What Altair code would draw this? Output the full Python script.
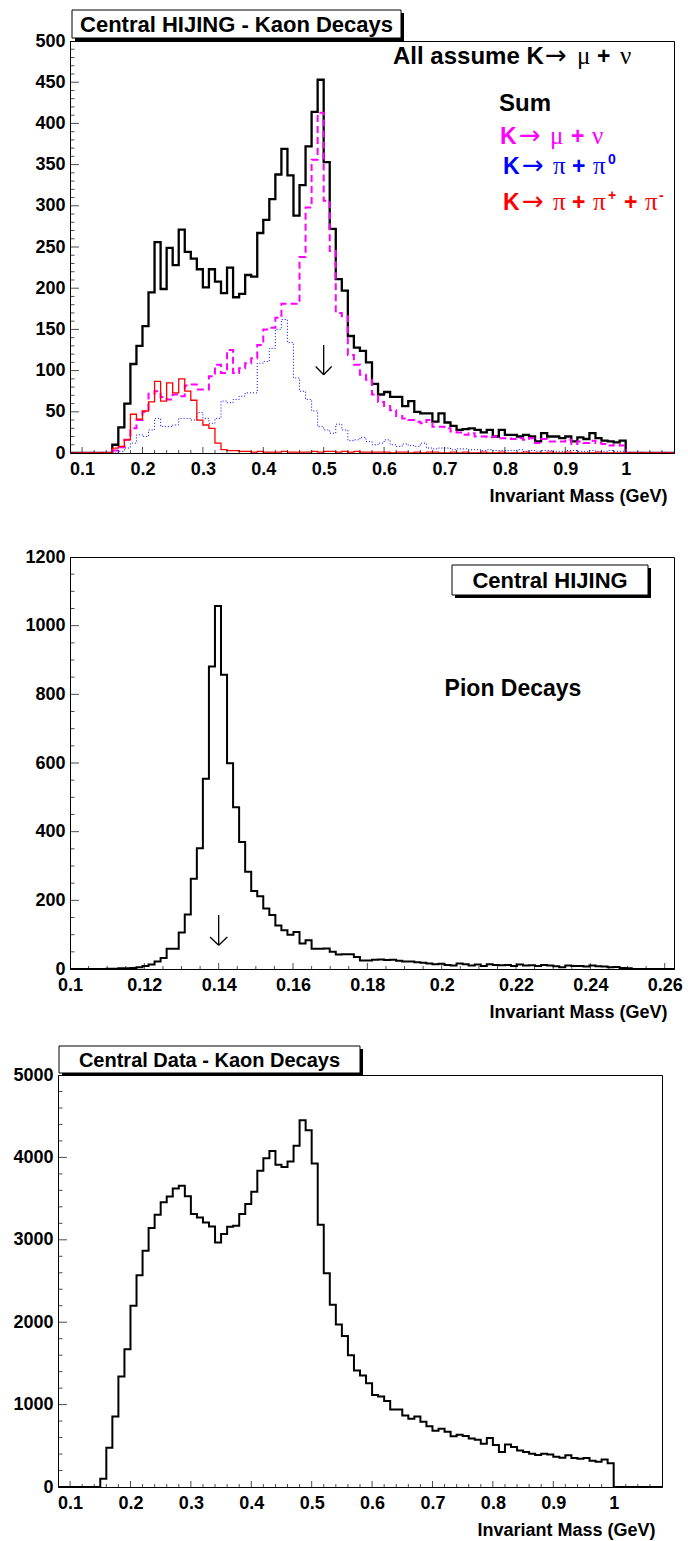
import altair as alt
import pandas as pd

FONT = "Liberation Sans"
SYM = "Liberation Serif"
ARW = "DejaVu Sans"
W, H = 604, 412

# ---------------- Panel 1: Central HIJING - Kaon decays (all assume K -> mu nu)
KAON_EDGE0 = 0.08      # lower edge of histogram range
KAON_BINW = 0.01
KAON_NBINS = 100
KAON_FIRST_BIN = 7     # index of bin 0.15-0.16, first listed value
kaon_sum = [10, 31, 60, 108, 130, 154, 195, 256, 199, 249,
            228, 271, 244, 236, 223, 201, 223, 208, 194, 225,
            189, 193, 216, 214, 267, 283, 308, 338, 369, 337,
            288, 325, 372, 414, 453, 353, 272, 211, 197, 142,
            128, 124, 110, 84,
            71, 74, 68, 68, 57, 63, 50, 48, 48, 38,
            48, 37, 33, 28, 29, 30, 28, 25, 28, 20,
            28, 22, 22, 20, 22, 20, 14, 24, 20, 20,
            18, 20, 14, 19, 17, 24, 18, 15, 14, 13, 15]
kaon_munu = [3, 7, 16, 30, 40, 50, 72, 75, 68, 65,
             71, 69, 82, 83, 77, 77, 93, 107, 97, 125,
             97, 103, 109, 115, 131, 150, 152, 164, 181, 181,
             181, 238, 298, 356, 413, 306, 245, 170, 166, 119,
             107, 95, 89, 71,
             62, 57, 52, 45, 42, 40, 38, 36, 40, 32,
             32, 30, 26, 25, 22, 24, 20, 20, 19, 20,
             18, 18, 17, 18, 16, 18, 12, 17, 14, 14,
             14, 16, 11, 14, 12, 15, 12, 11, 9, 10, 9]
kaon_pipi0 = [0, 2, 6, 12, 22, 20, 28, 42, 32, 32,
              34, 42, 42, 40, 49, 42, 36, 42, 63, 61,
              65, 69, 73, 73, 109, 111, 127, 150, 162, 134,
              91, 75, 65, 51, 32, 28, 24, 35, 28, 15,
              16, 19, 14, 10,
              12, 16, 10, 8, 11, 9, 8, 12, 6, 5,
              6, 6, 4, 5, 5, 4, 4, 3, 4, 3,
              3, 3, 3, 4, 2, 3, 2, 3, 3, 2,
              2, 3, 3, 2, 2, 3, 2, 2, 3, 2, 2]
kaon_3pi = [6, 8, 16, 47, 41, 51, 62, 87, 63, 85,
            73, 90, 75, 64, 40, 34, 30, 12, 4, 3,
            3, 2, 2, 1, 2, 1, 1, 1, 2, 1,
            1, 1, 1, 2, 1, 2, 2, 1, 2, 1,
            2, 1, 1, 1,
            1, 1, 0, 1, 1, 0, 1, 0, 1, 1,
            0, 0, 1, 0, 1, 0, 0, 1, 0, 0,
            1, 0, 0, 0, 1, 0, 0, 0, 1, 0,
            0, 1, 0, 0, 0, 0, 1, 0, 0, 0, 0]

# ---------------- Panel 2: Central HIJING - Pion decays
PION_EDGE0 = 0.1
PION_BINW = 0.001625
PION_NBINS = 100
PION_FIRST_BIN = 0
pion_counts = [0, 0, 0, 0, 0, 0, 1, 1, 2, 2, 3, 5,
               9, 13, 22, 32, 59, 59, 106, 159, 263, 352, 554, 881, 1057, 857,
               599, 471, 370, 283, 227, 212, 176, 157, 127, 113, 100, 108, 74, 84,
               59, 59, 60, 50, 42, 43, 43, 35, 25, 25, 27,
               28, 26, 27, 24, 22, 22, 20, 18, 16, 14,
               15, 12, 10, 16, 14, 10, 13, 9, 14, 12,
               11, 12, 9, 13, 10, 11, 9, 12, 10, 8,
               5, 10, 9, 9, 7, 10, 8, 7, 5, 6, 3, 2]

# ---------------- Panel 3: Central Data - Kaon decays
DATA_EDGE0 = 0.08
DATA_BINW = 0.01
DATA_NBINS = 100
DATA_FIRST_BIN = 7
data_kaon = [101, 477, 856, 1341, 1672, 2201, 2569, 2868, 3142, 3304,
             3457, 3526, 3623, 3655, 3530, 3312, 3271, 3211, 3162, 2968,
             3069, 3158, 3170, 3312, 3433, 3582, 3837, 3990, 4079, 3910,
             3885, 3950, 4140, 4451, 4330, 3926, 3183, 2593, 2213, 1971,
             1834, 1599, 1414, 1353, 1260, 1115, 1098, 1045, 941, 941,
             868, 828, 856, 792, 737, 683, 707, 670, 616, 634,
             618, 590, 572, 525, 594, 509, 424, 517, 485, 444,
             424, 404, 388, 404, 394, 368, 354, 384, 352, 343,
             352, 319, 307, 335, 287]

# ---------------- axis tick positions / labels
kaon_x_labels = [0.1, 0.2, 0.3, 0.4, 0.5, 0.6, 0.7, 0.8, 0.9, 1.0]
kaon_x_minor = [0.08, 0.12, 0.14, 0.16, 0.18, 0.22, 0.24, 0.26, 0.28, 0.32, 0.34, 0.36,
                0.38, 0.42, 0.44, 0.46, 0.48, 0.52, 0.54, 0.56, 0.58, 0.62, 0.64, 0.66,
                0.68, 0.72, 0.74, 0.76, 0.78, 0.82, 0.84, 0.86, 0.88, 0.92, 0.94, 0.96,
                0.98, 1.02, 1.04, 1.06]
pion_x_labels = [0.1, 0.12, 0.14, 0.16, 0.18, 0.2, 0.22, 0.24, 0.26]
pion_x_minor = [0.105, 0.11, 0.115, 0.125, 0.13, 0.135, 0.145, 0.15, 0.155, 0.165, 0.17,
                0.175, 0.185, 0.19, 0.195, 0.205, 0.21, 0.215, 0.225, 0.23, 0.235, 0.245,
                0.25, 0.255]
p1_y_labels = [0, 50, 100, 150, 200, 250, 300, 350, 400, 450, 500]
p1_y_minor = [v for v in range(10, 500, 10) if v % 50]
p2_y_labels = [0, 200, 400, 600, 800, 1000, 1200]
p2_y_minor = [v for v in range(50, 1200, 50) if v % 200]
p3_y_labels = [0, 1000, 2000, 3000, 4000, 5000]
p3_y_minor = [v for v in range(200, 5000, 200) if v % 1000]


def hist_df(edge0, binw, nbins, first_bin, values):
    counts = [0] * nbins
    for j, v in enumerate(values):
        counts[first_bin + j] = v
    return pd.DataFrame({
        "mass": [round(edge0 + binw * i, 6) for i in range(nbins + 1)],
        "entries": counts + [counts[-1]],
    })


def one_row():
    return alt.Data(values=[{"k": 0}])


def x_axis(values, fmt):
    return alt.Axis(values=values, format=fmt, ticks=False, labelPadding=7,
                    labelFlush=False, labelOverlap=False, labelBound=False,
                    labelFont=FONT, labelFontSize=18, labelFontWeight="bold",
                    labelColor="black", domain=True, domainColor="black", grid=False,
                    title="Invariant Mass (GeV)", titleFont=FONT, titleFontSize=18,
                    titleFontWeight="bold", titleColor="black", titleAnchor="end",
                    titleAlign="right", titleX=597, titleY=48, titleBaseline="alphabetic")


def y_axis(values, min_extent):
    return alt.Axis(values=values, format="d", ticks=False, labelPadding=5,
                    labelFlush=False, labelOverlap=False, labelBound=False,
                    labelFont=FONT, labelFontSize=18, labelFontWeight="bold",
                    labelColor="black", domain=True, domainColor="black", grid=False,
                    title="", minExtent=min_extent, maxExtent=min_extent)


def hist_layer(df, xs, ys, color, width, dash=None, xaxis=None, yaxis=None):
    kw = dict(interpolate="step-after", color=color, strokeWidth=width, clip=True)
    if dash:
        kw["strokeDash"] = dash
    xk = dict(scale=xs)
    yk = dict(scale=ys)
    if xaxis is not None:
        xk["axis"] = xaxis
    if yaxis is not None:
        yk["axis"] = yaxis
    return alt.Chart(df).mark_line(**kw).encode(
        x=alt.X("mass:Q", **xk),
        y=alt.Y("entries:Q", **yk),
    )


def tick_layers(xs, ys, x0, xmajor, xminor, xlen, ymajor, yminor, ylen):
    out = []
    for pos, size in ((xmajor, 2 * xlen), (xminor, xlen)):
        df = pd.DataFrame({"mass": pos, "entries": 0})
        out.append(alt.Chart(df).mark_tick(orient="vertical", size=size, thickness=1,
                                           color="black", clip=True).encode(
            x=alt.X("mass:Q", scale=xs), y=alt.Y("entries:Q", scale=ys)))
    for pos, size in ((ymajor, 2 * ylen), (yminor, ylen)):
        df = pd.DataFrame({"entries": pos, "mass": x0})
        out.append(alt.Chart(df).mark_tick(orient="horizontal", size=size, thickness=1,
                                           color="black", clip=True).encode(
            y=alt.Y("entries:Q", scale=ys), x=alt.X("mass:Q", scale=xs)))
    return out


def box(x0, x1, y0, y1, text, size):
    d = one_row()
    shadow = alt.Chart(d).mark_rect(color="black").encode(
        x=alt.value(x0 + 3), x2=alt.value(x1 + 3), y=alt.value(y0 + 3), y2=alt.value(y1 + 3))
    frame = alt.Chart(d).mark_rect(fill="white", stroke="black", strokeWidth=1).encode(
        x=alt.value(x0), x2=alt.value(x1), y=alt.value(y0), y2=alt.value(y1))
    label = alt.Chart(d).mark_text(text=text, font=FONT, fontWeight="bold", fontSize=size,
                                   align="center", baseline="middle", color="black").encode(
        x=alt.value((x0 + x1) / 2), y=alt.value((y0 + y1) / 2 + 1))
    return [shadow, frame, label]


def seg(text, x, y, color, font=FONT, weight="bold", size=23, align="left"):
    return alt.Chart(one_row()).mark_text(text=text, font=font, fontWeight=weight,
                                          fontSize=size, align=align, baseline="alphabetic",
                                          color=color).encode(x=alt.value(x), y=alt.value(y))


def arrow(xs, ys, xc, ytop, ytip, half_w, head_h):
    df = pd.DataFrame({
        "mass": [xc, xc - half_w, xc + half_w],
        "entries": [ytop, ytip + head_h, ytip + head_h],
        "mass2": [xc, xc, xc],
        "entries2": [ytip, ytip, ytip],
    })
    return alt.Chart(df).mark_rule(color="black", strokeWidth=1.3).encode(
        x=alt.X("mass:Q", scale=xs), x2="mass2:Q",
        y=alt.Y("entries:Q", scale=ys), y2="entries2:Q")


def decay_line(parts, y, color):
    """parts: list of (text, x, kind) with kind in main/arrow/greek/sup."""
    out = []
    for text, x, kind in parts:
        if kind == "arrow":
            out.append(seg(text, x, y, color, font=ARW, weight="normal", size=26))
        elif kind == "greek":
            out.append(seg(text, x, y, color, font=SYM, weight="normal", size=25))
        elif kind == "sup":
            out.append(seg(text, x, y - 10, color, size=14))
        else:
            out.append(seg(text, x, y, color, size=23))
    return out


def spacer_rect(top):
    return alt.Chart(one_row()).mark_rect(opacity=0).encode(
        x=alt.value(0), x2=alt.value(10), y=alt.value(top), y2=alt.value(0))


RARROW = "\u2192"
MU, NU, PI = "\u03bc", "\u03bd", "\u03c0"

# ---------------- Panel 1
xs1 = alt.Scale(domain=[0.08, 1.08], nice=False, zero=False)
ys1 = alt.Scale(domain=[0, 500], nice=False, zero=False)
p1_layers = [
    hist_layer(hist_df(KAON_EDGE0, KAON_BINW, KAON_NBINS, KAON_FIRST_BIN, kaon_sum), xs1, ys1,
               "black", 2.3, xaxis=x_axis(kaon_x_labels, ".1~f"), yaxis=y_axis(p1_y_labels, 66)),
    hist_layer(hist_df(KAON_EDGE0, KAON_BINW, KAON_NBINS, KAON_FIRST_BIN, kaon_munu), xs1, ys1,
               "#ff00ff", 2, dash=[7, 4]),
    hist_layer(hist_df(KAON_EDGE0, KAON_BINW, KAON_NBINS, KAON_FIRST_BIN, kaon_pipi0), xs1, ys1,
               "#0000ff", 1, dash=[1, 2]),
    hist_layer(hist_df(KAON_EDGE0, KAON_BINW, KAON_NBINS, KAON_FIRST_BIN, kaon_3pi), xs1, ys1,
               "#ff0000", 1.3),
    arrow(xs1, ys1, 0.5, 131, 95, 0.0132, 10),
]
p1_layers += tick_layers(xs1, ys1, 0.08, kaon_x_labels, kaon_x_minor, 6, p1_y_labels, p1_y_minor, 9)
p1_layers += box(2, 331, -31, -3, "Central HIJING - Kaon Decays", 22)
p1_layers += [seg("All assume K", 323, 23, "black", size=24)]
p1_layers += decay_line([(RARROW, 475, "arrow"), (MU, 507, "greek"), ("+", 527, "main"),
                         (NU, 550, "greek")], 23, "black")
p1_layers += [seg("Sum", 429, 70, "black", size=24)]
p1_layers += decay_line([("K", 430, "main"), (RARROW, 449, "arrow"), (MU, 480, "greek"),
                         ("+", 501, "main"), (NU, 522, "greek")], 103, "#ff00ff")
p1_layers += decay_line([("K", 433, "main"), (RARROW, 452, "arrow"), (PI, 483, "greek"),
                         ("+", 502, "main"), (PI, 523, "greek"), ("0", 538, "sup")],
                        133, "#0000ff")
p1_layers += decay_line([("K", 433, "main"), (RARROW, 452, "arrow"), (PI, 483, "greek"),
                         ("+", 502, "main"), (PI, 523, "greek"), ("+", 538, "sup"),
                         ("+", 554, "main"), (PI, 575, "greek"), ("-", 589, "sup")],
                        169, "#ff0000")
p1 = alt.layer(*p1_layers).properties(width=W, height=H)

# ---------------- Panel 2
xs2 = alt.Scale(domain=[0.1, 0.2625], nice=False, zero=False)
ys2 = alt.Scale(domain=[0, 1200], nice=False, zero=False)
p2_layers = [
    hist_layer(hist_df(PION_EDGE0, PION_BINW, PION_NBINS, PION_FIRST_BIN, pion_counts), xs2, ys2,
               "black", 2, xaxis=x_axis(pion_x_labels, ".2~f"), yaxis=y_axis(p2_y_labels, 66)),
    arrow(xs2, ys2, 0.14, 157, 69, 0.00233, 24),
    spacer_rect(-29),
]
p2_layers += tick_layers(xs2, ys2, 0.1, pion_x_labels, pion_x_minor, 6, p2_y_labels, p2_y_minor, 9)
p2_layers += box(382, 578, 8, 38, "Central HIJING", 22)
p2_layers += [seg("Pion Decays", 443, 139, "black", size=23, align="center")]
p2 = alt.layer(*p2_layers).properties(width=W, height=H)

# ---------------- Panel 3
xs3 = alt.Scale(domain=[0.08, 1.08], nice=False, zero=False)
ys3 = alt.Scale(domain=[0, 5000], nice=False, zero=False)
p3_layers = [
    hist_layer(hist_df(DATA_EDGE0, DATA_BINW, DATA_NBINS, DATA_FIRST_BIN, data_kaon), xs3, ys3,
               "black", 2, xaxis=x_axis(kaon_x_labels, ".1~f"), yaxis=y_axis(p3_y_labels, 54)),
    spacer_rect(-31),
]
p3_layers += tick_layers(xs3, ys3, 0.08, kaon_x_labels, kaon_x_minor, 6, p3_y_labels, p3_y_minor, 9)
p3_layers += box(1, 302, -29, -2, "Central Data - Kaon Decays", 20)
p3 = alt.layer(*p3_layers).properties(width=W, height=H)


def spacer():
    return alt.Chart(one_row()).mark_rect(opacity=0).encode(
        x=alt.value(0), x2=alt.value(1), y=alt.value(0), y2=alt.value(1)
    ).properties(width=1, height=1, view=alt.ViewBackground(stroke="transparent"))


rows = [alt.hconcat(spacer(), p, spacing=0) for p in (p1, p2, p3)]
chart = alt.vconcat(*rows, spacing=21).properties(
    padding={"left": 0, "top": 9, "right": 0, "bottom": 0},
    background="white",
).configure_view(stroke="black", strokeWidth=1)

chart.save("out.html", embed_options={"renderer": "svg", "actions": False})
